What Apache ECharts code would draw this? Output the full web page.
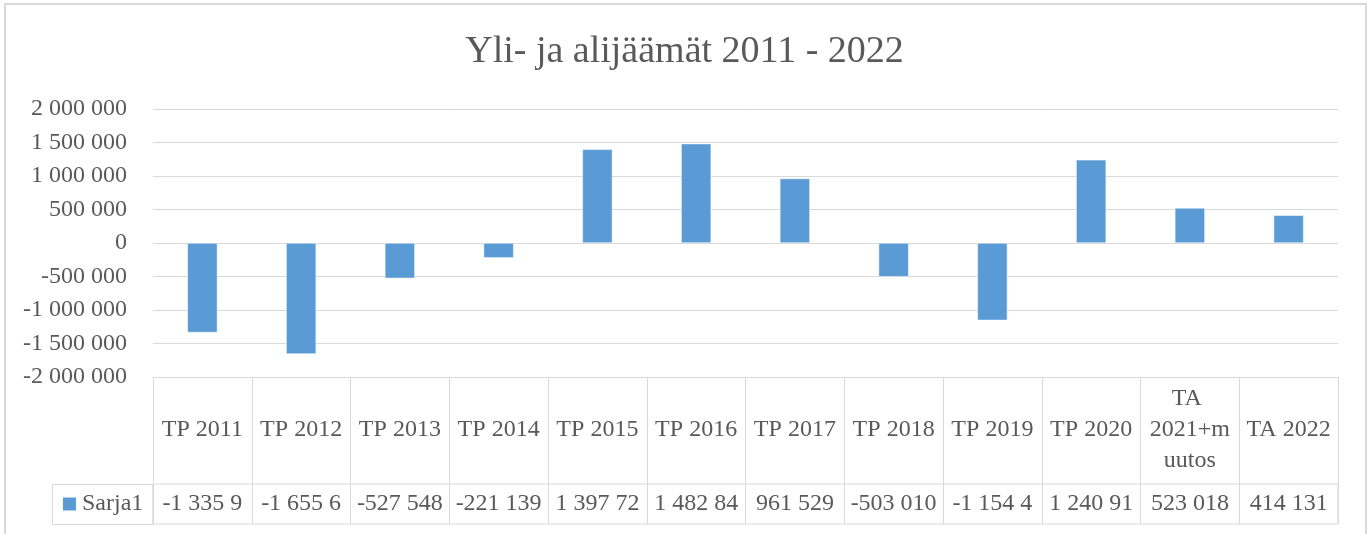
<!DOCTYPE html>
<html>
<head>
<meta charset="utf-8">
<title>Yli- ja alijäämät 2011 - 2022</title>
<script src="https://cdn.jsdelivr.net/npm/echarts@6/dist/echarts.min.js"></script>
<style>
  html, body { margin: 0; padding: 0; background: #fff; }
  #main { width: 1369px; height: 534px; }
</style>
</head>
<body>
<div id="main"></div>
<script>
// luokat ja arvot (Sarja1)
var categories = ["TP 2011", "TP 2012", "TP 2013", "TP 2014", "TP 2015", "TP 2016",
  "TP 2017", "TP 2018", "TP 2019", "TP 2020", "TA 2021+muutos", "TA 2022"];
var sarja1 = [-1335900, -1655600, -527548, -221139, 1397720, 1482840,
  961529, -503010, -1154400, 1240910, 523018, 414131];
var seriesName = "Sarja1";
var yMin = -2000000, yMax = 2000000, yStep = 500000;

var txt = "#595959";
var line = "#d9d9d9";
var font = "Liberation Serif";

// 1 234 567 muotoilu
function fmt(v) {
  var s = String(Math.abs(v)).replace(/\B(?=(\d{3})+(?!\d))/g, " ");
  return v < 0 ? "-" + s : s;
}

var chart = echarts.init(document.getElementById("main"));

var option = {
  backgroundColor: "#fff",
  animation: false,
  title: {
    text: "Yli- ja alijäämät 2011 - 2022",
    left: "center",
    top: 33,
    padding: 0,
    textStyle: { color: txt, fontSize: 38, fontWeight: "normal", fontFamily: font }
  },
  legend: {
    data: [seriesName],
    left: 61,
    top: 492,
    padding: 0,
    itemWidth: 15,
    itemHeight: 15,
    itemGap: 6,
    icon: "rect",
    textStyle: { color: txt, fontSize: 24, fontFamily: font }
  },
  grid: [
    { left: 153, right: 31, top: 109, height: 268 },
    { left: 153, right: 31, top: 484, height: 40, show: true, borderColor: line, borderWidth: 1 }
  ],
  xAxis: [
    {
      type: "category",
      gridIndex: 0,
      data: categories,
      position: "bottom",
      axisLine: { show: true, onZero: false, lineStyle: { color: line } },
      axisTick: { show: true, interval: 0, length: 147, lineStyle: { color: line } },
      axisLabel: {
        interval: 0,
        margin: 53,
        verticalAlign: "middle",
        color: txt,
        fontSize: 24,
        fontFamily: font,
        width: 88,
        overflow: "break",
        lineHeight: 31
      }
    },
    {
      type: "category",
      gridIndex: 1,
      data: categories,
      position: "bottom",
      axisLine: { show: false },
      axisTick: { show: false },
      axisLabel: {
        interval: 0,
        inside: true,
        margin: 20,
        verticalAlign: "middle",
        color: txt,
        fontSize: 24,
        fontFamily: font,
        width: 88,
        overflow: "truncate",
        ellipsis: "",
        formatter: function (v, i) { return fmt(sarja1[i]); }
      }
    }
  ],
  yAxis: [
    {
      type: "value",
      gridIndex: 0,
      min: yMin,
      max: yMax,
      interval: yStep,
      axisLine: { show: false },
      axisTick: { show: false },
      splitLine: { lineStyle: { color: line, width: 1 } },
      axisLabel: {
        margin: 26,
        color: txt,
        fontSize: 24,
        fontFamily: font,
        formatter: fmt
      }
    },
    {
      type: "value",
      gridIndex: 1,
      show: false
    }
  ],
  graphic: [
    {
      type: "rect",
      silent: true,
      shape: { x: 5, y: 4, width: 1361, height: 600 },
      style: { fill: null, stroke: line, lineWidth: 2 }
    },
    {
      type: "rect",
      silent: true,
      shape: { x: 52.5, y: 484.5, width: 100.5, height: 40 },
      style: { fill: null, stroke: line, lineWidth: 1 }
    }
  ],
  series: [
    {
      name: seriesName,
      type: "bar",
      xAxisIndex: 0,
      yAxisIndex: 0,
      data: sarja1,
      barWidth: 30,
      itemStyle: { color: "#5b9bd5", borderColor: "#ffffff", borderWidth: 0.5 }
    }
  ]
};

chart.setOption(option);
</script>
</body>
</html>
